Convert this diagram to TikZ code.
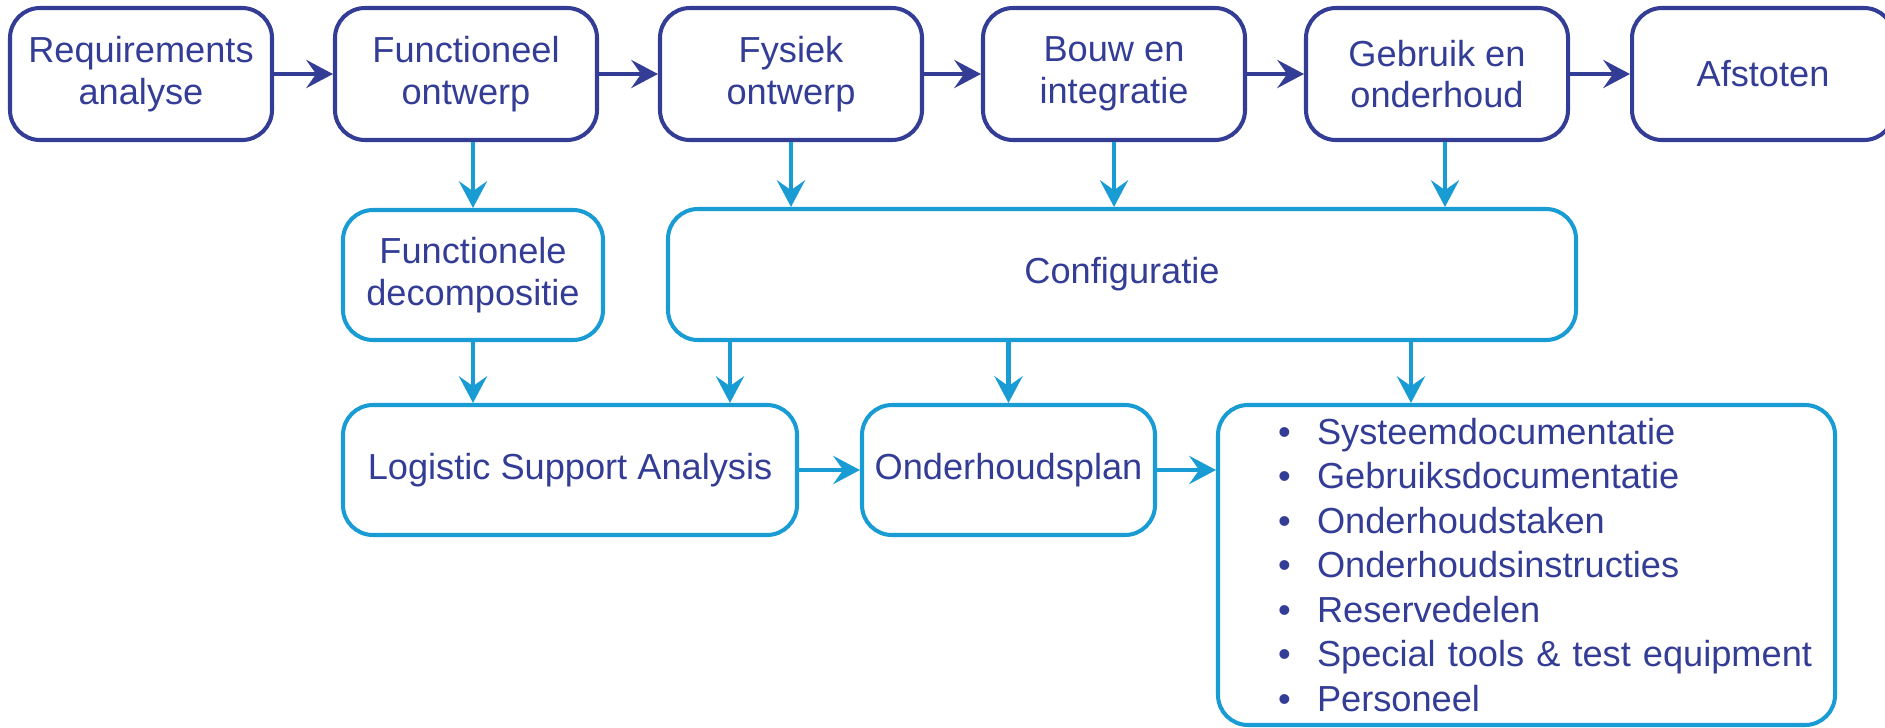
\documentclass[tikz,border=0pt]{standalone}
\usepackage{fontspec}
\setmainfont{Liberation Sans}
\usetikzlibrary{arrows.meta,positioning}
\definecolor{donkerblauw}{RGB}{52,61,150}
\definecolor{lichtblauw}{RGB}{25,155,212}
\newcommand\punt[1]{\mbox{\textbullet\hspace{7.5pt}#1}}
\tikzset{
	fase/.style={draw=donkerblauw, line width=1.15pt, rounded corners=0.3cm, minimum width=2.62cm, minimum height=1.32cm, align=center, text=donkerblauw, font=\fontsize{10.3}{11.8}\selectfont},
	resultaat/.style={draw=lichtblauw, line width=1.15pt, rounded corners=0.3cm, minimum height=1.30cm, align=center, text=donkerblauw, font=\fontsize{10.3}{11.8}\selectfont},
	pijlfase/.style={donkerblauw, line width=1.15pt, -{Stealth[length=7.6pt,width=8pt,inset=2.8pt]}},
	pijlres/.style={lichtblauw, line width=1.15pt, -{Stealth[length=7.6pt,width=8pt,inset=2.8pt]}}
}
\begin{document}
\begin{tikzpicture}
		%%%%% START %%%%%
		\useasboundingbox (0,0) rectangle (18.85,-7.27);
		
		% levenscyclus
		\node[fase] (req) at (1.41,-0.74) {Requirements\\analyse};
		\node[fase] (func) at (4.66,-0.74) {Functioneel\\ontwerp};
		\node[fase] (fys) at (7.91,-0.74) {Fysiek\\ontwerp};
		\node[fase] (bouw) at (11.14,-0.74) {Bouw en\\integratie};
		\node[fase] (gebr) at (14.37,-0.74) {Gebruik en\\onderhoud};
		\node[fase] (afst) at (17.63,-0.74) {Afstoten};
		
		\draw[pijlfase] (req.east) -- (func.west);
		\draw[pijlfase] (func.east) -- (fys.west);
		\draw[pijlfase] (fys.east) -- (bouw.west);
		\draw[pijlfase] (bouw.east) -- (gebr.west);
		\draw[pijlfase] (gebr.east) -- (afst.west);
		
		% resultaten
		\node[resultaat, minimum width=2.60cm] (fdec) at (4.73,-2.75) {Functionele\\decompositie};
		\node[resultaat, minimum width=9.08cm, minimum height=1.31cm] (conf) at (11.22,-2.745) {Configuratie};
		\node[resultaat, minimum width=4.54cm] (lsa) at (5.70,-4.70) {Logistic Support Analysis};
		\node[resultaat, minimum width=2.93cm] (ohp) at (10.085,-4.70) {Onderhoudsplan};
		\node[resultaat, minimum height=3.20cm, text width=4.97cm, inner xsep=0.6cm, align=left, font=\fontsize{10.3}{12.66}\selectfont] (lijst) at (15.265,-5.65) {%
			\punt{Systeemdocumentatie}\\
			\punt{Gebruiksdocumentatie}\\
			\punt{Onderhoudstaken}\\
			\punt{Onderhoudsinstructies}\\
			\punt{Reservedelen}\\
			\punt{Special tools \& test equipment}\\
			\punt{Personeel}};
		
		\draw[pijlres] (fdec.north |- func.south) -- (fdec.north);
		\draw[pijlres] (fys.south) -- (fys.south |- conf.north);
		\draw[pijlres] (bouw.south) -- (bouw.south |- conf.north);
		\draw[pijlres] ([xshift=0.08cm]gebr.south) -- ([xshift=0.08cm]gebr.south |- conf.north);
		
		\draw[pijlres] (fdec.south) -- (fdec.south |- lsa.north);
		\draw[pijlres] ([xshift=3.89cm]lsa.north west |- conf.south) -- ([xshift=3.89cm]lsa.north west);
		\draw[pijlres] (ohp.north |- conf.south) -- (ohp.north);
		\draw[pijlres] ([xshift=1.95cm]lijst.north west |- conf.south) -- ([xshift=1.95cm]lijst.north west);
		
		\draw[pijlres] (lsa.east) -- (ohp.west);
		\draw[pijlres] (ohp.east) -- (ohp.east -| lijst.west);
		
		%%%%% END %%%%%
	\end{tikzpicture}
\end{document}
